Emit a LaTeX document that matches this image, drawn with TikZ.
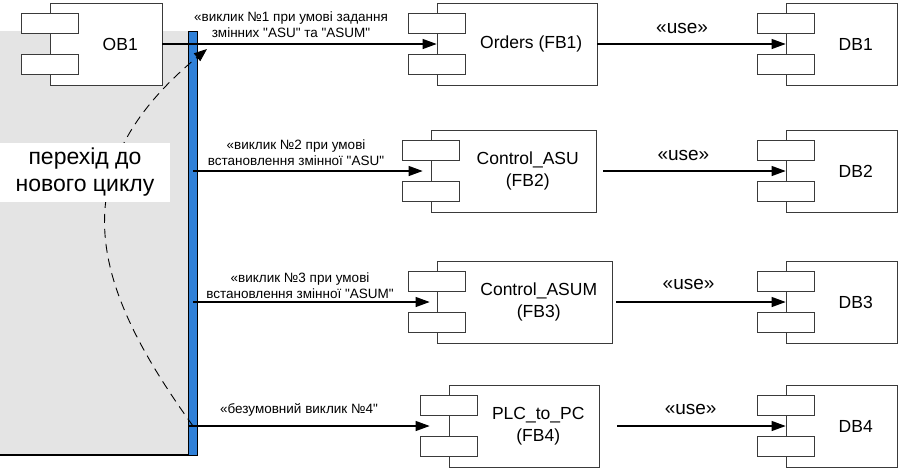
\documentclass[tikz,border=0pt]{standalone}
\usepackage{fontspec}
\setmainfont{Liberation Sans}[Ligatures=TeXOff]
\usetikzlibrary{arrows.meta,positioning}
\definecolor{LineGrey}{HTML}{3A3A3A}
\definecolor{PanelGrey}{HTML}{E4E4E4}
\definecolor{BarBlue}{HTML}{2F80D8}

\begin{document}
\begin{tikzpicture}[x=1pt, y=-1pt,
    comp/.style={draw=LineGrey, fill=white, line width=0.7pt, minimum height=82pt, inner sep=0pt},
    port/.style={draw=LineGrey, fill=white, line width=0.7pt, minimum width=57pt, minimum height=20.5pt, inner sep=0pt},
    compname/.style={align=center, font=\fontsize{17.5}{22}\selectfont, inner sep=0pt},
    calltext/.style={align=center, font=\fontsize{13.5}{16.5}\selectfont, inner sep=0pt},
    usetext/.style={font=\fontsize{19}{22}\selectfont, inner sep=0pt},
    call/.style={line width=1.1pt, -{Triangle[length=14pt,width=10pt]}},
    loopline/.style={line width=0.9pt, dash pattern=on 9pt off 6pt, -{Triangle[length=13pt,width=10pt]}}]
  \useasboundingbox (0,0) rectangle (904,469);

  % panel behind the left side
  \fill[PanelGrey] (0,31) rectangle (188,455);
  \draw[line width=1.4pt] (0,455) -- (198,455);
  \node[fill=BarBlue, draw=black, line width=1pt, minimum width=9pt, minimum height=424pt, inner sep=0pt] (bar) at (193,243) {};

  % components
  \foreach \n/\cx/\cy/\w/\t in {ob1/106/44/112/OB1,
      fb1/517/44/160/Orders (FB1),
      fb2/513.5/171/165/Control\_ASU\\(FB2),
      fb3/524.5/302/175/Control\_ASUM\\(FB3),
      fb4/524/426/150/PLC\_to\_PC\\(FB4),
      db1/841.5/44/111/DB1, db2/841.5/171/111/DB2,
      db3/841.5/302/111/DB3, db4/841.5/426/111/DB4}{
    \node[comp, minimum width=\w pt] (\n) at (\cx,\cy) {};
    \node[port, yshift=20.5pt] (\n-p1) at (\n.west) {};
    \node[port, yshift=-20.5pt] (\n-p2) at (\n.west) {};
    \node[compname] (\n-t) at ([xshift=14.25pt]\n.center) {\t};
  }

  % loop back to the next cycle
  \coordinate (looptip) at (207,49);
  \draw[loopline] (bar.center |- fb4.west) .. controls (95,290) and (55,175) .. (looptip);
  \node[fill=white, minimum width=170pt, minimum height=59pt, inner sep=0pt, align=center,
        font=\fontsize{23}{27}\selectfont] (loop) at (85,172.5) {перехід до\\нового циклу};

  % calls from OB1
  \draw[call] (ob1) -- (fb1);
  \draw[call, shorten >=8pt] (bar.center |- fb2.west) -- (fb2.west);
  \draw[call, shorten >=7pt] (bar.center |- fb3.west) -- (fb3.west);
  \draw[call, shorten >=19pt] (bar.west |- fb4.west) -- (fb4.west);
  \node[calltext] (call1) at (291,24.5) {«виклик №1 при умові задання\\змінних "ASU" та "ASUM"};
  \node[calltext] (call2) at (296,152.5) {«виклик №2 при умові\\встановлення змінної "ASU"};
  \node[calltext] (call3) at (300,285.5) {«виклик №3 при умові\\встановлення змінної "ASUM"};
  \node[calltext] (call4) at (299,410) {«безумовний виклик №4"};

  % use of data blocks
  \draw[call] (fb1) -- (db1) node[usetext, pos=0.45, above=10pt] (use1) {«use»};
  \draw[call, shorten <=7pt] (fb2) -- (db2) node[usetext, pos=0.46, above=10pt] (use2) {«use»};
  \draw[call, shorten <=4pt] (fb3) -- (db3) node[usetext, pos=0.44, above=12pt] (use3) {«use»};
  \draw[call, shorten <=18pt] (fb4) -- (db4) node[usetext, pos=0.49, above=11pt] (use4) {«use»};
\end{tikzpicture}
\end{document}
